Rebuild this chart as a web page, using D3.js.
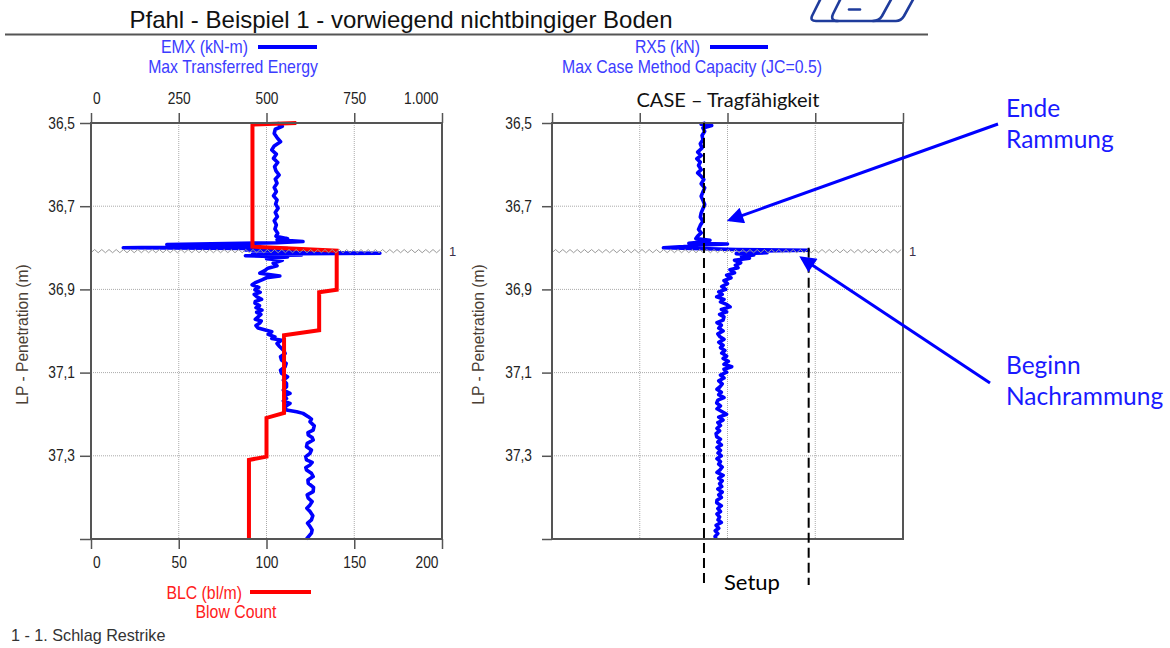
<!DOCTYPE html>
<html><head><meta charset="utf-8">
<script src="https://cdn.jsdelivr.net/npm/d3@7"></script>
<style>body{margin:0;background:#fff}svg{display:block}</style>
</head><body><svg id="c" width="1170" height="648"></svg>
<script>
// ---------- data ----------
const depthTicks = [36.5, 36.7, 36.9, 37.1, 37.3, 37.5];
const emxTicks = [0, 250, 500, 750, 1000];
const blcTicks = [0, 50, 100, 150, 200];
const rx5Ticks = [0, 1000, 2000, 3000, 4000];
const restrikeDepth = 36.808;
const setupLow = 1732, setupHigh = 2925;

const blcDepth = [36.500, 36.504, 36.797, 36.807, 36.901, 36.907, 36.998, 37.010, 37.197, 37.209, 37.302, 37.310, 37.500];
const blcValue = [117, 92, 92, 140, 140, 130, 130, 110, 110, 100, 100, 90, 90];

const emxDepth = [36.500,36.508,36.515,36.525,36.535,36.545,36.555,36.565,36.575,36.585,36.595,36.605,36.615,36.625,36.635,36.645,36.655,36.665,36.675,36.685,36.695,36.705,36.715,36.725,36.735,36.745,36.755,36.765,36.772,36.778,36.781,36.785,36.788,36.792,36.794,36.797,36.800,36.802,36.805,36.808,36.810,36.813,36.815,36.817,36.819,36.822,36.826,36.830,36.837,36.843,36.849,36.855,36.861,36.868,36.872,36.877,36.883,36.889,36.895,36.901,36.907,36.912,36.918,36.924,36.929,36.933,36.939,36.944,36.950,36.955,36.960,36.966,36.972,36.976,36.981,36.987,36.993,37.002,37.008,37.014,37.018,37.022,37.030,37.038,37.046,37.054,37.062,37.070,37.078,37.086,37.094,37.102,37.110,37.118,37.126,37.134,37.142,37.150,37.156,37.162,37.168,37.174,37.182,37.190,37.194,37.198,37.206,37.212,37.218,37.228,37.238,37.244,37.250,37.256,37.262,37.270,37.278,37.286,37.294,37.302,37.310,37.316,37.322,37.328,37.334,37.342,37.350,37.358,37.366,37.376,37.386,37.394,37.402,37.410,37.418,37.426,37.434,37.444,37.454,37.462,37.470,37.478,37.486,37.500];
const emxValue = [530,545,525,522,530,540,522,515,528,520,532,523,527,536,525,530,522,528,520,530,526,533,525,531,522,528,524,532,527,560,530,604,530,216,480,350,92,560,440,600,500,823,460,600,440,560,500,545,519,530,504,495,481,538,500,487,470,459,478,467,482,465,473,486,468,467,480,470,487,472,484,476,468,485,481,470,476,515,505,524,515,543,530,538,548,553,540,543,556,553,540,543,560,548,557,557,548,567,550,557,548,567,552,557,586,604,619,628,624,636,633,618,619,630,633,616,614,628,624,612,614,630,624,612,614,628,633,618,619,634,633,616,619,630,624,615,624,632,628,617,624,630,628,614];

const rx5Depth = [36.500,36.503,36.506,36.512,36.520,36.530,36.540,36.550,36.560,36.570,36.578,36.586,36.594,36.602,36.612,36.620,36.628,36.636,36.646,36.656,36.666,36.676,36.686,36.696,36.706,36.716,36.726,36.736,36.746,36.756,36.764,36.772,36.778,36.782,36.786,36.789,36.791,36.794,36.797,36.800,36.802,36.804,36.806,36.808,36.810,36.812,36.814,36.817,36.821,36.825,36.830,36.836,36.842,36.848,36.853,36.860,36.866,36.872,36.879,36.886,36.893,36.900,36.906,36.912,36.918,36.924,36.930,36.936,36.942,36.948,36.954,36.960,36.966,36.974,36.980,36.986,36.993,37.000,37.007,37.014,37.020,37.027,37.034,37.040,37.047,37.053,37.060,37.066,37.073,37.080,37.086,37.092,37.099,37.106,37.113,37.120,37.127,37.134,37.140,37.147,37.153,37.160,37.166,37.173,37.180,37.187,37.194,37.200,37.207,37.214,37.220,37.227,37.234,37.240,37.247,37.254,37.260,37.267,37.274,37.280,37.287,37.293,37.300,37.307,37.314,37.320,37.327,37.334,37.340,37.347,37.354,37.360,37.367,37.374,37.380,37.387,37.394,37.400,37.407,37.413,37.420,37.427,37.434,37.440,37.447,37.454,37.460,37.467,37.474,37.480,37.487,37.494,37.500];
const rx5Value = [1750,1700,1820,1720,1740,1710,1720,1690,1710,1660,1700,1650,1690,1670,1700,1660,1700,1730,1700,1740,1720,1700,1720,1740,1720,1700,1690,1720,1690,1670,1700,1660,1640,1800,1700,1560,2000,1650,1500,1270,1700,2100,2920,2350,2250,2450,2100,2300,2160,2250,2080,2150,2090,2120,2028,2080,1990,2040,1960,2000,1934,1980,1900,1940,1877,1960,1920,1990,2030,1930,1990,1910,1960,1949,1880,1930,1900,1950,1890,1915,1960,1900,1950,1920,1970,1934,1990,1950,2010,1960,2048,1960,1990,1920,1960,1900,1940,1915,1880,1930,1900,1960,1890,1877,1920,1880,1940,1990,1900,1949,1890,1920,1880,1910,1870,1877,1920,1890,1930,1880,1920,1892,1930,1880,1920,1900,1940,1915,1880,1950,1900,1940,1910,1934,1890,1940,1900,1930,1880,1877,1930,1890,1920,1880,1910,1892,1930,1870,1900,1860,1890,1858,1870];

// ---------- layout ----------
const svg = d3.select('#c');
const TOP = 123, BOTTOM = 539;
const y = d3.scaleLinear().domain([36.5, 37.5]).range([TOP, BOTTOM]);
const xEmx = d3.scaleLinear().domain([0, 1000]).range([91, 442]);
const xBlc = d3.scaleLinear().domain([0, 200]).range([91, 442]);
const xRx5 = d3.scaleLinear().domain([0, 4000]).range([552, 903]);

const FONT = "'Liberation Sans', Arial, sans-serif";
const CAL = "Lato, 'Open Sans', sans-serif";
const fmtDepth = d => d === 37.5 ? "" : d.toFixed(1).replace('.', ',');

function condense(sel, sx) {
  sel.each(function () {
    const t = d3.select(this);
    const x = +t.attr('x') || 0, yy = +t.attr('y') || 0;
    t.attr('x', null).attr('y', null)
     .attr('transform', `translate(${x},${yy}) scale(${sx},1)`);
  });
}

function styleAxis(g) {
  g.select('.domain').remove();
  g.selectAll('.tick line').attr('stroke', '#555').attr('stroke-width', 1.5);
  g.selectAll('.tick text').attr('fill', '#222').style('font-family', FONT).style('font-size', '16px');
}

function fixEnds(a) {
  const texts = a.selectAll('.tick text').nodes();
  if (!texts.length) return;
  d3.select(texts[0]).attr('text-anchor', 'start').attr('x', 1.5);
  d3.select(texts[texts.length - 1]).attr('text-anchor', 'end').attr('x', -4);
}

function panel(xs, xTicks, opts) {
  const [x0, x1] = xs.range();
  const g = svg.append('g');
  g.append('g').selectAll('line').data(xTicks.slice(1, -1)).join('line')
    .attr('x1', d => xs(d)).attr('x2', d => xs(d)).attr('y1', TOP).attr('y2', BOTTOM)
    .attr('stroke', '#aaa').attr('stroke-width', 1).attr('stroke-dasharray', '1,1');
  g.append('g').selectAll('line').data(depthTicks.slice(1, -1)).join('line')
    .attr('x1', x0).attr('x2', x1).attr('y1', d => y(d)).attr('y2', d => y(d))
    .attr('stroke', '#aaa').attr('stroke-width', 1).attr('stroke-dasharray', '1,1');
  const ya = g.append('g').attr('transform', `translate(${x0},0)`)
    .call(d3.axisLeft(y).tickValues(depthTicks).tickSize(opts.ytick).tickPadding(opts.ypad).tickFormat(fmtDepth));
  styleAxis(ya);
  condense(ya.selectAll('.tick text'), 0.86);
  const ta = g.append('g').attr('transform', `translate(0,${TOP})`)
    .call(d3.axisTop(xs).tickValues(xTicks).tickSize(10).tickPadding(9).tickFormat(opts.topFmt));
  styleAxis(ta);
  fixEnds(ta);
  condense(ta.selectAll('.tick text'), 0.86);
  return g;
}

// ---------- title ----------
svg.append('text').attr('x', 401).attr('y', 28).attr('text-anchor', 'middle')
  .style('font-family', FONT).style('font-size', '24px').attr('fill', '#111')
  .text('Pfahl - Beispiel 1 - vorwiegend nichtbingiger Boden');
svg.append('line').attr('x1', 5).attr('x2', 928).attr('y1', 34.5).attr('y2', 34.5)
  .attr('stroke', '#555').attr('stroke-width', 2);

// logo (partially cut off at top)
const logo = svg.append('g').attr('fill', 'none').attr('stroke', '#1f3c9c').attr('stroke-width', 2.6)
  .attr('stroke-linejoin', 'round').attr('stroke-linecap', 'round');
logo.append('path').attr('d', 'M822,-4 L812,16 Q810,21 816,21 L896,21 Q901,21 904,16 L915,-4');
logo.append('path').attr('d', 'M842,-4 L833,14 Q830,21 838,21');
logo.append('path').attr('d', 'M893,-4 L882,16 Q879,21 873,21');
logo.append('line').attr('x1', 849).attr('x2', 860).attr('y1', 9.5).attr('y2', 9.5);

// ---------- left panel ----------
const left = panel(xEmx, emxTicks, { ytick: 11, ypad: 5, topFmt: d => d === 1000 ? '1.000' : String(d) });
const ba = left.append('g').attr('transform', `translate(0,${BOTTOM})`)
  .call(d3.axisBottom(xBlc).tickValues(blcTicks).tickSize(10).tickPadding(8));
styleAxis(ba);
fixEnds(ba);
condense(ba.selectAll('.tick text'), 0.86);

// ---------- right panel ----------
const right = panel(xRx5, rx5Ticks, { ytick: 10, ypad: 10, topFmt: () => '' });

// data lines
const lineEmx = d3.line().x(d => xEmx(d[1])).y(d => y(d[0]));
const lineBlc = d3.line().x(d => xBlc(d[1])).y(d => y(d[0]));
const lineRx5 = d3.line().x(d => xRx5(d[1])).y(d => y(d[0]));

left.append('path').datum(d3.zip(emxDepth, emxValue)).attr('d', lineEmx)
  .attr('fill', 'none').attr('stroke', '#0000ff').attr('stroke-width', 3.6).attr('stroke-linejoin', 'round');
left.append('path').datum(d3.zip(blcDepth, blcValue)).attr('d', lineBlc)
  .attr('fill', 'none').attr('stroke', '#ff0000').attr('stroke-width', 4).attr('stroke-linejoin', 'miter');
right.append('path').datum(d3.zip(rx5Depth, rx5Value)).attr('d', lineRx5)
  .attr('fill', 'none').attr('stroke', '#0000ff').attr('stroke-width', 3.6).attr('stroke-linejoin', 'round');

// restrike wavy markers
function wavy(xs, labelX) {
  const [x0, x1] = xs.range();
  const yy = y(restrikeDepth);
  const pts = [];
  let k = 0;
  for (let x = x0; x <= x1; x += 3.6, k++) pts.push([x, yy + (k % 2 ? -1.6 : 1.6)]);
  svg.append('path').attr('d', d3.line()(pts)).attr('fill', 'none').attr('stroke', '#9a9a9a').attr('stroke-width', 1);
  svg.append('text').attr('x', labelX).attr('y', yy + 5).style('font-family', FONT).style('font-size', '13px')
    .attr('fill', '#3a2f4a').text('1');
}
wavy(xEmx, 449);
wavy(xRx5, 909);

// frames
[xEmx, xRx5].forEach(xs => {
  const [x0, x1] = xs.range();
  svg.append('rect').attr('x', x0).attr('y', TOP).attr('width', x1 - x0).attr('height', BOTTOM - TOP)
    .attr('fill', 'none').attr('stroke', '#555').attr('stroke-width', 2);
});

// axis titles
[22, 478].forEach(xx => {
  svg.append('text').attr('transform', `translate(${xx},${(262 + 407) / 2}) rotate(-90) scale(0.92,1)`)
    .attr('text-anchor', 'middle').attr('dy', '0.35em')
    .style('font-family', FONT).style('font-size', '17px').attr('fill', '#4a3e34')
    .text('LP - Penetration (m)');
});

// legends
function ctext(x, yy, txt, anchor, color, size, sx) {
  return svg.append('text').attr('transform', `translate(${x},${yy}) scale(${sx},1)`)
    .attr('text-anchor', anchor).style('font-family', FONT).style('font-size', size + 'px')
    .attr('fill', color).text(txt);
}
const legBlue = '#3c3cff', legRed = '#ff2020';
ctext(248, 53, 'EMX (kN-m)', 'end', legBlue, 18, 0.88);
svg.append('line').attr('x1', 258).attr('x2', 317).attr('y1', 47).attr('y2', 47).attr('stroke', '#0000ff').attr('stroke-width', 4);
ctext(233, 73, 'Max Transferred Energy', 'middle', legBlue, 18, 0.88);
ctext(700, 53, 'RX5 (kN)', 'end', legBlue, 18, 0.88);
svg.append('line').attr('x1', 710).attr('x2', 768).attr('y1', 47).attr('y2', 47).attr('stroke', '#0000ff').attr('stroke-width', 4);
ctext(692, 73, 'Max Case Method Capacity (JC=0.5)', 'middle', legBlue, 18, 0.88);

ctext(242, 599, 'BLC (bl/m)', 'end', legRed, 18, 0.88);
svg.append('line').attr('x1', 250).attr('x2', 311).attr('y1', 592).attr('y2', 592).attr('stroke', '#ff0000').attr('stroke-width', 4);
ctext(236, 618, 'Blow Count', 'middle', legRed, 18, 0.88);
ctext(11, 641, '1 - 1. Schlag Restrike', 'start', '#333', 17, 0.95);

// ---------- annotations ----------
svg.append('text').attr('x', 728).attr('y', 107).attr('text-anchor', 'middle')
  .style('font-family', CAL).style('font-size', '20px').attr('fill', '#111').text('CASE – Tragfähigkeit');

const dashBottom = 585;
svg.append('line').attr('x1', xRx5(setupLow)).attr('x2', xRx5(setupLow)).attr('y1', y(36.5)).attr('y2', dashBottom)
  .attr('stroke', '#000').attr('stroke-width', 2).attr('stroke-dasharray', '10,5');
svg.append('line').attr('x1', xRx5(setupHigh)).attr('x2', xRx5(setupHigh)).attr('y1', y(36.8)).attr('y2', dashBottom)
  .attr('stroke', '#000').attr('stroke-width', 2).attr('stroke-dasharray', '10,5');
svg.append('text').attr('x', 724).attr('y', 590).style('font-family', CAL).style('font-size', '22px')
  .attr('fill', '#000').text('Setup');

const annBlue = '#1a1aff';
svg.append('defs').append('marker').attr('id', 'ah').attr('viewBox', '0 0 10 10')
  .attr('refX', 8).attr('refY', 5).attr('markerWidth', 6.5).attr('markerHeight', 5.5)
  .attr('orient', 'auto').attr('markerUnits', 'strokeWidth')
  .append('path').attr('d', 'M0,0 L10,5 L0,10 z').attr('fill', '#0000ff');
svg.append('line').attr('x1', 998).attr('y1', 124).attr('x2', xRx5(2028)).attr('y2', y(36.733))
  .attr('stroke', '#0000ff').attr('stroke-width', 3).attr('marker-end', 'url(#ah)');
svg.append('line').attr('x1', 990).attr('y1', 383).attr('x2', xRx5(2849)).attr('y2', y(36.825))
  .attr('stroke', '#0000ff').attr('stroke-width', 3).attr('marker-end', 'url(#ah)');

[['Ende', 117], ['Rammung', 148], ['Beginn', 374], ['Nachrammung', 405]].forEach(([t, yy]) => {
  svg.append('text').attr('x', 1006).attr('y', yy).style('font-family', CAL).style('font-size', '24.5px')
    .attr('fill', annBlue).text(t);
});
</script></body></html>
